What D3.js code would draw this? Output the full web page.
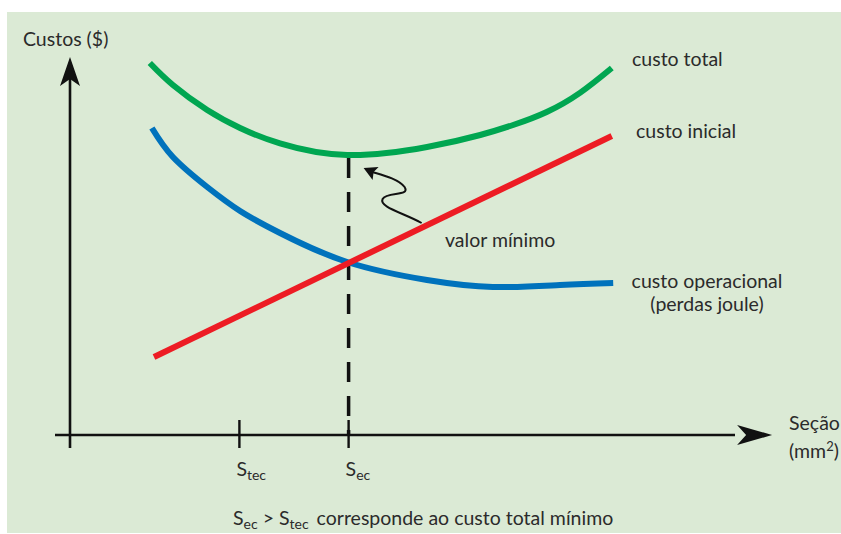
<!DOCTYPE html>
<html lang="pt">
<head>
  <meta charset="utf-8" />
  <title>Custos x Seção</title>
  <script src="https://d3js.org/d3.v7.min.js"></script>
  <style>
    body { margin: 0; background: #fff; }
    svg text { font-family: Lato, "Open Sans", sans-serif; font-size: 19.5px; fill: #2b2b2b; }
  </style>
</head>
<body>
  <svg width="841" height="534"></svg>
  <script>
    // dados (seção e custo em unidades arbitrárias)
    const secaoTotal = [11.4, 14.7, 19.6, 24.3, 30, 39.6, 51, 58.6, 63.3, 68.1, 72.9, 77.4];
    const custoTotal = [93, 87.5, 81.25, 76.75, 72.9, 70, 72, 75, 77.5, 80.75, 85.6, 91.75];
    const secaoOper = [11.7, 14.7, 19.6, 24.3, 30, 39.6, 51, 60.4, 70, 77.6];
    const custoOperacional = [76.75, 69.5, 62, 56, 50.5, 43.25, 38.75, 37, 37.5, 38];
    const secaoInicial = [12, 77.4];
    const custoInicial = [19.5, 74.75];
    const tickValues = [24.2, 39.8];
    const tickSubs = ["tec", "ec"];
    const secaoMin = 39.8;
    const custoMin = 70;

    const svg = d3.select("svg");

    svg.append("rect")
      .attr("x", 7).attr("y", 12)
      .attr("width", 834).attr("height", 521)
      .attr("fill", "#dbead5");

    const x = d3.scaleLinear().domain([0, 100]).range([70, 770]);
    const y = d3.scaleLinear().domain([0, 100]).range([435, 35]);

    // eixos
    const axisColor = "#111";
    svg.append("line")
      .attr("x1", x(0)).attr("x2", x(0))
      .attr("y1", y(0) + 13).attr("y2", y(93))
      .attr("stroke", axisColor).attr("stroke-width", 2.6);
    svg.append("line")
      .attr("x1", x(0) - 15).attr("x2", x(95))
      .attr("y1", y(0)).attr("y2", y(0))
      .attr("stroke", axisColor).attr("stroke-width", 2.6);

    // pontas de seta
    const yTip = [x(0), y(94.5)];
    svg.append("path")
      .attr("d", `M${yTip[0]},${yTip[1]} L${yTip[0] + 10},${yTip[1] + 29} L${yTip[0]},${yTip[1] + 22} L${yTip[0] - 10},${yTip[1] + 29} Z`)
      .attr("fill", axisColor);
    const xTip = [x(100.3), y(0)];
    svg.append("path")
      .attr("d", `M${xTip[0]},${xTip[1]} L${xTip[0] - 35},${xTip[1] - 10} L${xTip[0] - 26},${xTip[1]} L${xTip[0] - 35},${xTip[1] + 10} Z`)
      .attr("fill", axisColor);

    // marcas Stec / Sec
    svg.selectAll("line.tick")
      .data(tickValues)
      .join("line")
      .attr("class", "tick")
      .attr("x1", d => x(d)).attr("x2", d => x(d))
      .attr("y1", y(0) - 15).attr("y2", y(0) + 13)
      .attr("stroke", axisColor).attr("stroke-width", 2.4);

    const tickLabel = svg.selectAll("text.ticklabel")
      .data(tickValues)
      .join("text")
      .attr("class", "ticklabel")
      .attr("x", d => x(d) - 3)
      .attr("y", y(0) + 41);
    tickLabel.append("tspan").text("S");
    tickLabel.append("tspan").attr("dy", 4).style("font-size", "14px").text((d, i) => tickSubs[i]);

    // linha tracejada no mínimo
    svg.append("line")
      .attr("x1", x(secaoMin)).attr("x2", x(secaoMin))
      .attr("y1", y(custoMin) + 3).attr("y2", y(0))
      .attr("stroke", axisColor).attr("stroke-width", 3.5)
      .attr("stroke-dasharray", "20,14");

    // curvas
    const curve = d3.line()
      .x(d => x(d[0])).y(d => y(d[1]))
      .curve(d3.curveNatural);

    const series = [
      { name: "custo operacional", xs: secaoOper, ys: custoOperacional, color: "#0072bc" },
      { name: "custo inicial", xs: secaoInicial, ys: custoInicial, color: "#ed1c24" },
      { name: "custo total", xs: secaoTotal, ys: custoTotal, color: "#00a651" }
    ];

    svg.append("g")
      .selectAll("path")
      .data(series)
      .join("path")
      .attr("d", s => curve(d3.zip(s.xs, s.ys)))
      .attr("fill", "none")
      .attr("stroke", s => s.color)
      .attr("stroke-width", 6);

    // seta "valor mínimo"
    const ax = x(secaoMin), ay = y(custoMin);
    svg.append("path")
      .attr("d", `M${ax + 73},${ay + 68} C${ax + 55},${ay + 58} ${ax + 30},${ay + 52} ${ax + 34},${ay + 44} C${ax + 38},${ay + 36} ${ax + 62},${ay + 42} ${ax + 56},${ay + 32} C${ax + 50},${ay + 24} ${ax + 34},${ay + 20} ${ax + 24},${ay + 17}`)
      .attr("fill", "none").attr("stroke", axisColor).attr("stroke-width", 2);
    svg.append("path")
      .attr("d", `M${ax + 15},${ay + 13} L${ax + 30},${ay + 12} L${ax + 25},${ay + 17} L${ax + 24},${ay + 25} Z`)
      .attr("fill", axisColor);

    // textos
    const labels = [
      { t: "Custos ($)", x: 23, y: 46, a: "start" },
      { t: "custo total", x: 632, y: 66, a: "start" },
      { t: "custo inicial", x: 636, y: 138, a: "start" },
      { t: "custo operacional", x: 707, y: 288, a: "middle" },
      { t: "(perdas joule)", x: 707, y: 311, a: "middle" },
      { t: "valor mínimo", x: 445, y: 247, a: "start" },
      { t: "Seção", x: 789, y: 430, a: "start" }
    ];
    svg.selectAll("text.lbl")
      .data(labels)
      .join("text")
      .attr("class", "lbl")
      .attr("x", d => d.x).attr("y", d => d.y)
      .attr("text-anchor", d => d.a)
      .text(d => d.t);

    const mm = svg.append("text").attr("x", 789).attr("y", 458);
    mm.append("tspan").text("(mm");
    mm.append("tspan").attr("dy", -7).style("font-size", "13px").text("2");
    mm.append("tspan").attr("dy", 7).text(")");

    const nota = svg.append("text").attr("x", 233).attr("y", 525);
    nota.append("tspan").text("S");
    nota.append("tspan").attr("dy", 4).style("font-size", "14px").text("ec");
    nota.append("tspan").attr("dy", -4).text(" > S");
    nota.append("tspan").attr("dy", 4).style("font-size", "14px").text("tec");
    nota.append("tspan").attr("dy", -4).attr("dx", 8).text("corresponde ao custo total mínimo");
  </script>
</body>
</html>
